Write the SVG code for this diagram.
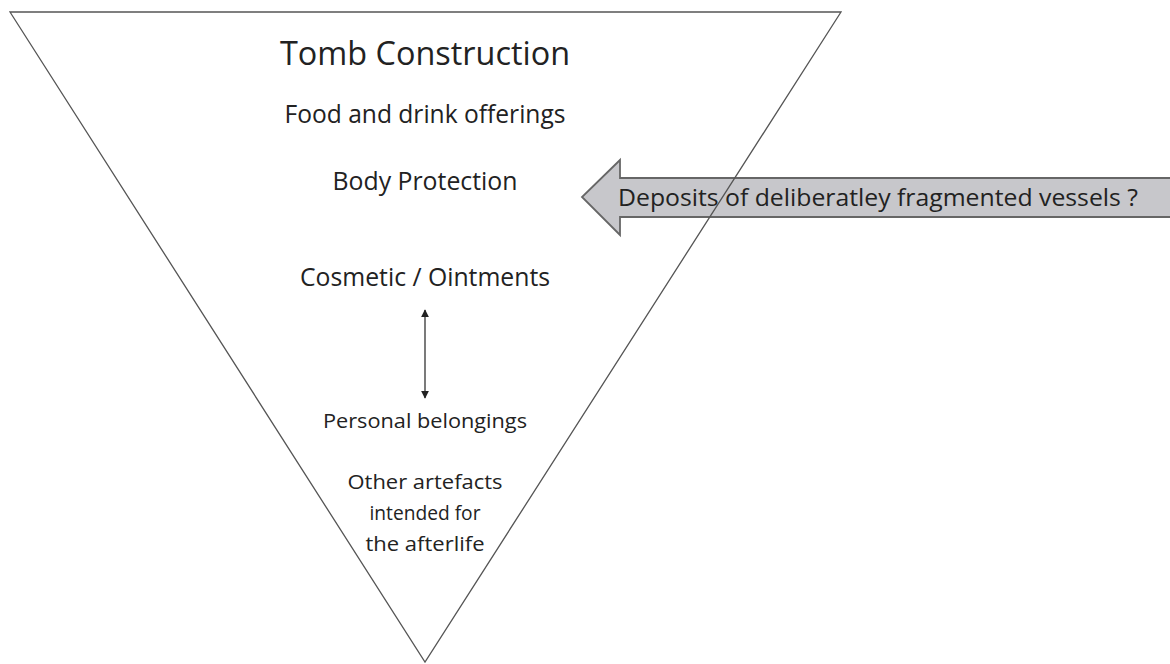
<svg xmlns="http://www.w3.org/2000/svg" width="1170" height="664" viewBox="0 0 1170 664">
<defs>
<style>
text{font-family:"Open Sans","Noto Sans","Liberation Sans",sans-serif;fill:#222;text-anchor:middle}
.l{font-size:25px}
.s{font-size:20px}
</style>
<marker id="ah" viewBox="0 0 10 10" refX="9" refY="5" markerWidth="8" markerHeight="8" markerUnits="userSpaceOnUse" orient="auto-start-reverse"><path d="M0,0 L10,5 L0,10 Z" fill="#222"/></marker>
</defs>
<rect width="1170" height="664" fill="#fff"/>
<g id="deposit-arrow">
<path d="M1174,178 L620,178 L620,160 L582,197 L620,235 L620,217 L1174,217 Z" fill="#c7c7cb" stroke="#666" stroke-width="1.8"/>
<text x="618" y="206" style="text-anchor:start;font-size:24px" textLength="520" lengthAdjust="spacingAndGlyphs">Deposits of deliberatley fragmented vessels ?</text>
</g>
<g id="triangle">
<path d="M10,12 L841,12 L425,662 Z" fill="none" stroke="#555" stroke-width="1.3"/>
</g>
<g id="title"><text x="425" y="65" style="font-size:32px" textLength="290" lengthAdjust="spacingAndGlyphs">Tomb Construction</text></g>
<g id="food"><text class="l" x="425" y="123" textLength="281" lengthAdjust="spacingAndGlyphs">Food and drink offerings</text></g>
<g id="body"><text class="l" x="425" y="190" textLength="185" lengthAdjust="spacingAndGlyphs">Body Protection</text></g>
<g id="cosmetic"><text class="l" x="425" y="286" textLength="250" lengthAdjust="spacingAndGlyphs">Cosmetic / Ointments</text></g>
<g id="connectors">
<line x1="425" y1="310" x2="425" y2="398" stroke="#222" stroke-width="1.2" marker-start="url(#ah)" marker-end="url(#ah)"/>
</g>
<g id="personal"><text class="s" x="425" y="428" textLength="204" lengthAdjust="spacingAndGlyphs">Personal belongings</text></g>
<g id="other">
<text class="s" x="425" y="489" textLength="155" lengthAdjust="spacingAndGlyphs">Other artefacts</text>
<text class="s" x="425" y="520" textLength="111" lengthAdjust="spacingAndGlyphs">intended for</text>
<text class="s" x="425" y="551" textLength="119" lengthAdjust="spacingAndGlyphs">the afterlife</text>
</g>
</svg>
